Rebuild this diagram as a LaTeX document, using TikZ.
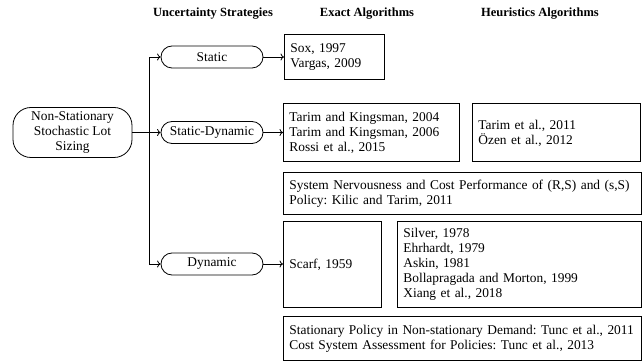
\documentclass[tikz,border=0pt]{standalone}
\usepackage{fontspec}
\setmainfont{Liberation Serif}
\usetikzlibrary{arrows.meta}
\tikzset{
  txt/.style={font=\fontsize{13.4}{15}\selectfont\frenchspacing},
  hdr/.style={font=\fontsize{12.5}{15}\selectfont\bfseries},
  box/.style={draw, line width=0.8pt, inner xsep=6pt, inner ysep=0pt, align=left, anchor=north west, txt},
  oval/.style={draw, line width=0.8pt, rounded corners=11pt, minimum width=102pt, minimum height=22pt, inner sep=0pt, txt},
  arr/.style={line width=0.8pt, -{To[length=3.5pt,width=7pt]}}
}
\begin{document}
\begin{tikzpicture}[x=1pt,y=-1pt]
\useasboundingbox (0,0) rectangle (643,363);
% headers
\node[hdr] (h1) at (213,14) {Uncertainty Strategies};
\node[hdr] (h2) at (367,14) {Exact Algorithms};
\node[hdr] (h3) at (540,14) {Heuristics Algorithms};
% root
\node[draw, line width=0.8pt, rounded corners=18pt, minimum width=119pt, minimum height=50pt, inner sep=0pt, align=center, txt] (ns) at (72.5,132.5) {Non-Stationary\\Stochastic Lot\\Sizing};
% strategies
\node[oval] (st) at (212,57) {Static};
\node[oval] (sd) at (212,132.5) {Static-Dynamic};
\node[oval] (dy) at (212,264) {Dynamic};
% boxes
\node[box, text width=88pt, minimum height=45pt] (sox) at (284,34.5) {Sox, 1997\\Vargas, 2009};
\node[box, text width=164pt, minimum height=58pt] (tk) at (283,103.5) {Tarim and Kingsman, 2004\\Tarim and Kingsman, 2006\\Rossi et al., 2015};
\node[box, text width=156pt, minimum height=58pt] (te) at (472,103.5) {Tarim et al., 2011\\Özen et al., 2012};
\node[box, text width=346pt, minimum height=42pt] (sn) at (283,172) {System Nervousness and Cost Performance of (R,S) and (s,S)\\Policy: Kilic and Tarim, 2011};
\node[box, text width=86pt, minimum height=86pt] (sc) at (283,221) {Scarf, 1959};
\node[box, text width=232pt, minimum height=86pt] (si) at (397,221) {Silver, 1978\\Ehrhardt, 1979\\Askin, 1981\\Bollapragada and Morton, 1999\\Xiang et al., 2018};
\node[box, text width=346pt, minimum height=44pt] (sp) at (283,316) {Stationary Policy in Non-stationary Demand: Tunc et al., 2011\\Cost System Assessment for Policies: Tunc et al., 2013};
% connectors
\coordinate (tr) at (149,132.5);
\draw[arr] (ns) -- (sd);
\draw[arr] (tr) |- (st);
\draw[arr] (tr) |- (dy);
\draw[arr] (st) -- (st -| sox.west);
\draw[arr] (sd) -- (sd -| tk.west);
\draw[arr] (dy) -- (dy -| sc.west);
\end{tikzpicture}
\end{document}
